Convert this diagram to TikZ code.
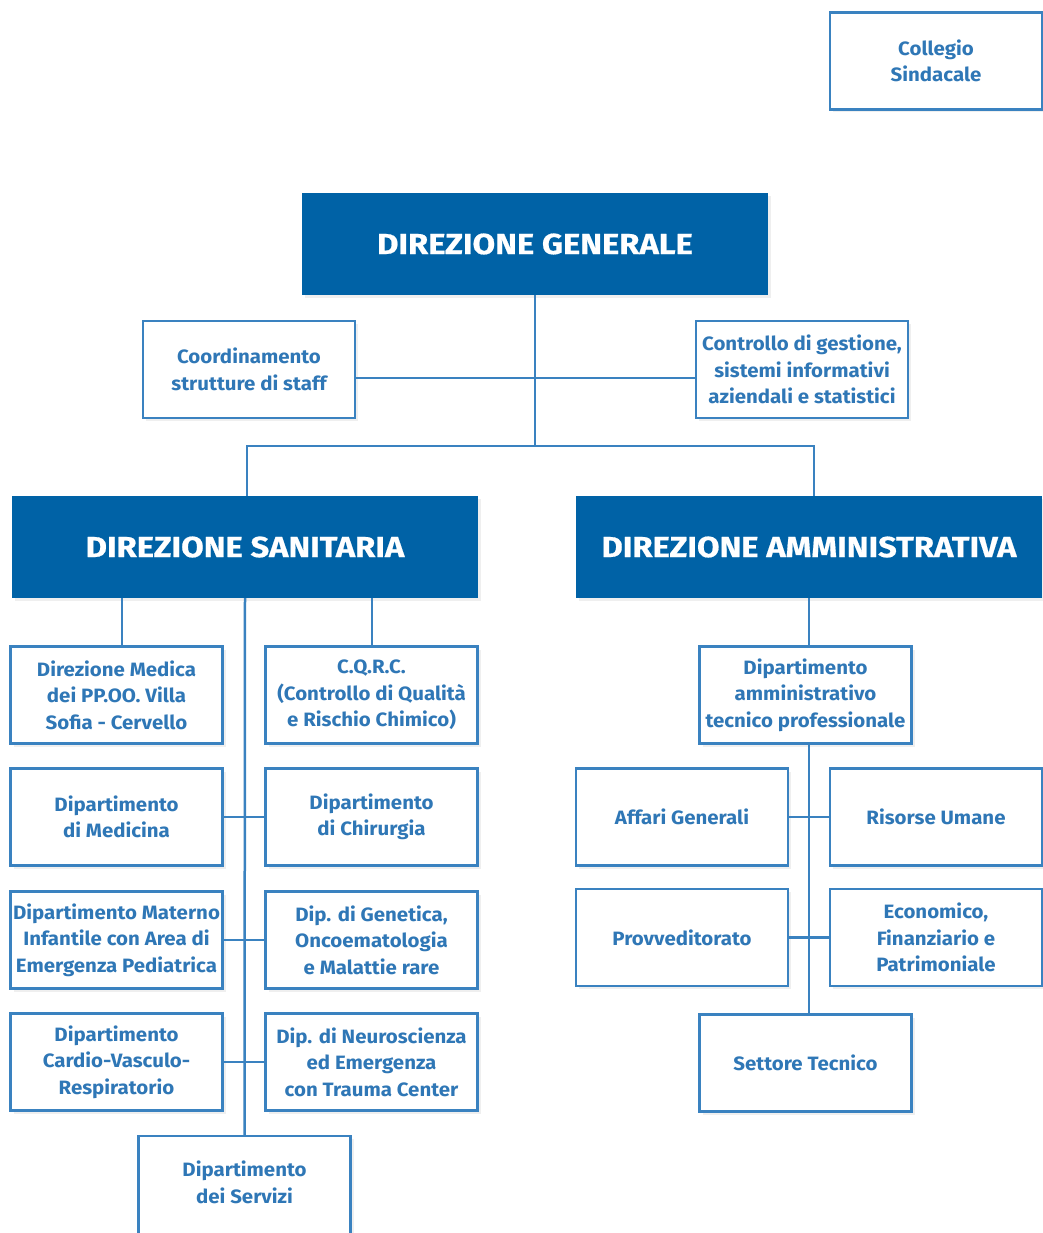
\documentclass[tikz,border=0pt]{standalone}
\usepackage{fontspec}
\setmainfont{Fira Sans}
\newfontfamily\headfont[FakeStretch=1.13,FakeBold=0.6]{Fira Sans Bold}
\newfontfamily\boxfont[FakeStretch=1.06]{Fira Sans Bold}
\usetikzlibrary{shadows}
\definecolor{darkblue}{HTML}{0062A6}
\definecolor{lineblue}{HTML}{3A82C0}
\definecolor{txtblue}{HTML}{2F77B6}
\tikzset{
  shad/.style={drop shadow={opacity=0.12, shadow xshift=3pt, shadow yshift=-3pt}},
  box/.style={draw=lineblue, line width=2.5pt, fill=white, shad,
    minimum width=212pt, minimum height=97pt, inner sep=0pt, outer sep=0pt,
    align=center, text=txtblue, font=\boxfont\fontsize{19.3}{26.5}\selectfont},
  head/.style={fill=darkblue, shad, minimum width=466pt, minimum height=102pt,
    inner sep=0pt, outer sep=0pt, text=white, font=\headfont\fontsize{29}{32}\selectfont},
  conn/.style={draw=lineblue, line width=2.5pt}
}
\begin{document}
\begin{tikzpicture}[x=1pt,y=-1pt]
\useasboundingbox[fill=white] (0,0) rectangle (1043,1233);
% top
\node[box] (coll) at (936,61) {Collegio\\Sindacale};
\node[head] (dg) at (535,244) {DIREZIONE GENERALE};
\node[box] (coord) at (249,369.5) {Coordinamento\\strutture di staff};
\node[box] (ctrl) at (802,369.5) {Controllo di gestione,\\sistemi informativi\\aziendali e statistici};
\node[head] (ds) at (245,547) {DIREZIONE SANITARIA};
\node[head] (da) at (809,547) {DIREZIONE AMMINISTRATIVA};
% sanitaria
\node[box] (dmed) at (116.5,695) {Direzione Medica\\dei PP.OO. Villa\\Sofia - Cervello};
\node[box] (cqrc) at (371.5,695) {C.Q.R.C.\\(Controllo di Qualità\\e Rischio Chimico)};
\node[box] (medi) at (116.5,817) {Dipartimento\\di Medicina};
\node[box] (chir) at (371.5,817) {Dipartimento\\di Chirurgia};
\node[box] (mat) at (116.5,940) {Dipartimento Materno\\Infantile con Area di\\Emergenza Pediatrica};
\node[box] (gen) at (371.5,940) {Dip. di Genetica,\\Oncoematologia\\e Malattie rare};
\node[box] (card) at (116.5,1062) {Dipartimento\\Cardio-Vasculo-\\Respiratorio};
\node[box] (neur) at (371.5,1062) {Dip. di Neuroscienza\\ed Emergenza\\con Trauma Center};
\node[box, minimum height=106pt, text depth=14pt] (serv) at (244.5,1189) {Dipartimento\\dei Servizi};
% amministrativa
\node[box] (dat) at (805.5,695) {Dipartimento\\amministrativo\\tecnico professionale};
\node[box] (aff) at (682,817) {Affari Generali};
\node[box] (ris) at (936,817) {Risorse Umane};
\node[box] (prov) at (682,937.5) {Provveditorato};
\node[box] (eco) at (936,937.5) {Economico,\\Finanziario e\\Patrimoniale};
\node[box] (sett) at (805.5,1063) {Settore Tecnico};
% connector guide coordinates
\coordinate (h1) at (535,378);
\coordinate (j1) at (535,446);
\coordinate (xs) at (247,0);
\coordinate (xa) at (814,0);
\coordinate (xm) at (122,0);
\coordinate (xq) at (372,0);
\coordinate (xd) at (809,0);
% connectors
\draw[conn] (dg.south) -- (j1);
\draw[conn] (coord.east |- h1) -- (ctrl.west |- h1);
\draw[conn] (xs |- ds.north) |- (j1) -| (xa |- da.north);
\draw[conn] (xm |- dmed.north) -- (xm |- ds.south);
\draw[conn] (xq |- cqrc.north) -- (xq |- ds.south);
\draw[conn] (ds.south) -- (serv.north);
\draw[conn] (medi.east) -- (chir.west);
\draw[conn] (mat.east) -- (gen.west);
\draw[conn] (card.east) -- (neur.west);
\draw[conn] (xd |- dat.north) -- (xd |- da.south);
\draw[conn] (xd |- dat.south) -- (xd |- sett.north);
\draw[conn] (aff.east) -- (ris.west);
\draw[conn] (prov.east) -- (eco.west);
\end{tikzpicture}
\end{document}
